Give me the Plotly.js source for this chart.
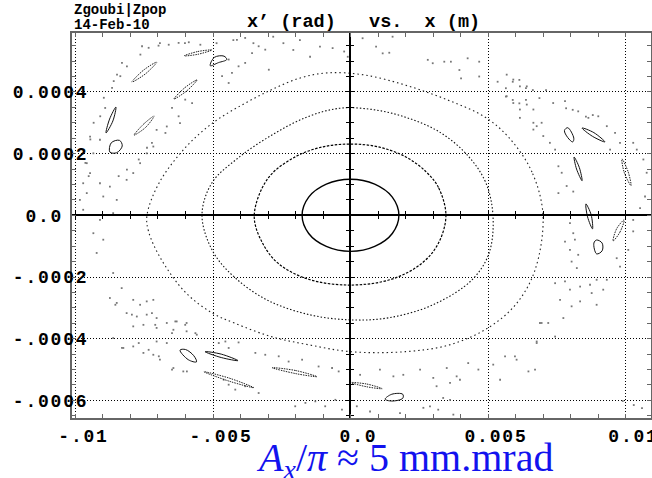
<!DOCTYPE html>
<html><head><meta charset="utf-8">
<script src="https://cdn.plot.ly/plotly-3.0.1.min.js"></script>
<style>
html,body{margin:0;padding:0;background:#fff}
#chart{width:652px;height:478px}
#chart .xtick text, #chart .ytick text{letter-spacing:1.8px}
</style>
</head><body><div id="chart"></div>
<script>
// ---- axes ----
const xRange = [-0.010127, 0.010927];
const yRange = [-0.000657, 0.000591];
const xTickVals = [-0.01, -0.005, 0, 0.005, 0.01];
const xTickText = ['-.01', '-.005', '0.0', '0.005', '0.01'];
const yTickVals = [0.0004, 0.0002, 0, -0.0002, -0.0004, -0.0006];
const yTickText = ['0.0004', '0.0002', '0.0\u00a0\u00a0', '-.0002', '-.0004', '-.0006'];

// ---- closed orbits (x [m], x' [rad]) ----
const orbit1 = [[0.00176,0],[0.00152,0.000059],[0.00088,0.000101],[0,0.000117],[-0.00088,0.000101],[-0.00152,0.000059],[-0.00176,0],[-0.00152,-0.000059],[-0.00088,-0.000101],[0,-0.000117],[0.00088,-0.000101],[0.00152,-0.000059],[0.00176,0]];
const orbit2 = [[0.00347,0],[0.0032,0.00009],[0.00275,0.000141],[0.002,0.00019],[0.001,0.000222],[0,0.000231],[-0.001,0.000222],[-0.002,0.00019],[-0.003,0.00012],[-0.0035,0],[-0.0032,-0.00009],[-0.0026,-0.000158],[-0.0015,-0.000208],[0,-0.000226],[0.0015,-0.000207],[0.0026,-0.000155],[0.0032,-0.00009],[0.00347,0]];
const orbit3 = [[0.00518,0],[0.0049,0.00011],[0.0042,0.0002],[0.0032,0.000272],[0.002,0.000318],[0.0008,0.000343],[-0.0004,0.000347],[-0.0016,0.000318],[-0.0029,0.000258],[-0.0041,0.000185],[-0.00504,0.000105],[-0.0054,0],[-0.005,-0.000118],[-0.0042,-0.000202],[-0.003,-0.000276],[-0.0015,-0.000322],[0,-0.000339],[0.0014,-0.000332],[0.003,-0.00029],[0.00442,-0.000209],[0.00504,-0.000122],[0.00518,0]];
const orbit4 = [[0.007,0],[0.0066,0.00014],[0.0058,0.000248],[0.0049,0.000318],[0.0035,0.000375],[0.002,0.000422],[0.0005,0.000455],[-0.0008,0.000462],[-0.0018,0.000446],[-0.00285,0.000408],[-0.0039,0.00036],[-0.005,0.0003],[-0.006,0.00022],[-0.00696,0.000105],[-0.0074,0],[-0.00735,-0.00005],[-0.0069,-0.00014],[-0.006,-0.00025],[-0.00504,-0.000316],[-0.0042,-0.00035],[-0.00285,-0.000394],[-0.0015,-0.00042],[0,-0.000442],[0.002,-0.000442],[0.0036,-0.00042],[0.005,-0.000365],[0.006,-0.00029],[0.0067,-0.00018],[0.007,0]];

// ---- resonance islands (small closed loops) ----
const islands = [
 [[-0.00795,0.000432],[-0.00752,0.000471],[-0.00704,0.000497],[-0.00745,0.000459],[-0.00795,0.000432]],
 [[-0.00605,0.000517],[-0.00555,0.000531],[-0.00504,0.000536],[-0.00555,0.000522],[-0.00605,0.000517]],
 [[-0.0051,0.000485],[-0.00495,0.000512],[-0.0046,0.000516],[-0.0045,0.000505],[-0.0048,0.000495],[-0.0051,0.000485]],
 [[-0.00642,0.000377],[-0.00602,0.000414],[-0.00558,0.000439],[-0.00596,0.000403],[-0.00642,0.000377]],
 [[-0.00889,0.000267],[-0.00876,0.000312],[-0.00853,0.000351],[-0.00864,0.000306],[-0.00889,0.000267]],
 [[-0.00787,0.00026],[-0.00752,0.000296],[-0.00714,0.000322],[-0.00745,0.000285],[-0.00787,0.00026]],
 [[-0.00875,0.000205],[-0.0087,0.000235],[-0.0084,0.000243],[-0.0083,0.000225],[-0.0085,0.000203],[-0.00875,0.000205]],
 [[0.00778,0.000275],[0.0079,0.000284],[0.00812,0.00025],[0.00808,0.000238],[0.0079,0.000252],[0.00778,0.000275]],
 [[0.00842,0.000283],[0.00885,0.000268],[0.00925,0.000238],[0.0088,0.000256],[0.00842,0.000283]],
 [[0.00813,0.000189],[0.00832,0.000155],[0.00842,0.000112],[0.00822,0.00015],[0.00813,0.000189]],
 [[0.00987,0.000183],[0.0101,0.00014],[0.0102,0.000096],[0.00995,0.00014],[0.00987,0.000183]],
 [[0.00856,0.000037],[0.00875,0.000002],[0.0088,-0.000044],[0.00862,-0.000005],[0.00856,0.000037]],
 [[0.00885,-0.00009],[0.00895,-0.00008],[0.00915,-0.00009],[0.00915,-0.000115],[0.00895,-0.000125],[0.00885,-0.00009]],
 [[0.00955,-0.000083],[0.0098,-0.000054],[0.00995,-0.000015],[0.00968,-0.000043],[0.00955,-0.000083]],
 [[-0.0062,-0.000437],[-0.006,-0.000435],[-0.0057,-0.000455],[-0.0056,-0.000475],[-0.0059,-0.000468],[-0.0062,-0.000437]],
 [[-0.00529,-0.000442],[-0.0047,-0.00045],[-0.00409,-0.000471],[-0.0047,-0.000461],[-0.00529,-0.000442]],
 [[-0.00533,-0.000507],[-0.0044,-0.000528],[-0.00351,-0.000559],[-0.0044,-0.000538],[-0.00533,-0.000507]],
 [[-0.00285,-0.000494],[-0.002,-0.000503],[-0.00122,-0.000523],[-0.002,-0.000513],[-0.00285,-0.000494]],
 [[0,-0.000542],[0.0006,-0.000547],[0.00115,-0.000562],[0.0006,-0.000556],[0,-0.000542]],
 [[0.00126,-0.000596],[0.0015,-0.00058],[0.0019,-0.00058],[0.0019,-0.000593],[0.0015,-0.000602],[0.00126,-0.000596]]
];
// which islands look like solid loops (others are dotted chains)
const islandSolid = [false,false,true,false,true,false,true,true,true,true,false,true,true,false,true,true,false,false,false,true];

// ---- chaotic-region particle hits ----
const chaos = [
 [-0.00758,0.000548],[-0.00734,0.000543],[-0.00698,0.00055],[-0.00661,0.000553],[-0.00625,0.000559],[-0.00588,0.000561],[-0.00546,0.000553],[-0.00764,0.000521],[-0.00831,0.000494],[-0.00813,0.000483],
 [-0.00849,0.000456],[-0.00861,0.000435],[-0.00837,0.000451],[-0.00867,0.000413],[-0.00897,0.000381],[-0.00892,0.000348],[-0.0091,0.000321],[-0.00934,0.0003],[-0.00946,0.000246],[-0.00964,0.00017],
 [-0.00952,0.000127],[-0.00649,0.000348],[-0.00625,0.000321],[-0.00601,0.000375],[-0.00576,0.000364],[-0.00673,0.000267],[-0.00722,0.000235],[-0.0074,0.000219],[-0.0077,0.000181],[-0.00813,0.000148],
 [-0.00843,0.000127],[-0.00443,0.000505],[-0.00407,0.000483],[-0.00383,0.000494],[-0.00358,0.000526],[-0.00334,0.000548],[-0.0031,0.000537],[-0.00467,0.000451],[-0.00443,0.000429],[-0.00431,0.000462],
 [-0.00413,0.000569],[-0.00383,0.000575],[-0.00297,0.000472],
 [-0.00065,0.000542],[-0.00023,0.000531],[-0.0001,0.000514],[0.00093,0.000547],[0.00117,0.000525],[0.00141,0.000527],[0.00281,0.000504],[0.00299,0.000493],[0.00341,0.000498],[0.00365,0.000498],
 [0.00396,0.000471],[0.00402,0.000444],[0.00426,0.000509],[0.00468,0.00045],[0.00468,0.000498],[0.00535,0.000433],[0.00565,0.000412],[0.0059,0.000433],[0.00614,0.000439],[0.00638,0.000412],
 [0.00663,0.000406],[0.00565,0.000385],[0.0059,0.000374],[0.00614,0.000363],[0.00638,0.000374],[0.00687,0.00038],[0.00711,0.000406],[0.00784,0.000347],[0.00808,0.000342],[0.00856,0.00032],
 [0.00881,0.000325],[0.00044,0.000574],[0.00153,0.000579],
 [-0.00693,0.000558],[-0.00602,0.000558],[-0.00487,0.000558],[-0.00426,0.000568],[-0.00353,0.000558],[-0.00281,0.000579],[-0.00244,0.000558],[-0.00208,0.000536],[-0.00184,0.000568],[-0.00147,0.000514],[-0.00111,0.000547],
 [-0.00947,0.000255],[-0.00911,0.000245],[-0.00935,0.000201],[-0.00959,0.000169],[-0.00947,0.000137],[-0.00972,0.000104],[-0.00959,0.000072],[-0.00984,0.00005],[-0.00972,0.000018],[-0.00911,0.000104],
 [-0.00875,0.000093],[-0.00899,0.000061],[-0.0085,0.00005],[-0.00814,0.000115],[-0.0079,0.000137],[-0.00765,0.000169],[-0.00741,0.000201],[-0.00717,0.000223],[-0.00911,-0.000015],[-0.00935,-0.000058],
 [-0.00899,-0.000079],[-0.00923,-0.000122],[-0.00863,0.000007],[-0.00705,0.000277],[-0.00668,0.000288],[-0.0062,0.000299],
 [-0.00863,-0.000187],[-0.00832,-0.000236],[-0.00875,-0.000268],[-0.0085,-0.000284],[-0.0079,-0.000274],[-0.00765,-0.00029],[-0.00741,-0.000279],[-0.00717,-0.000274],[-0.00814,-0.000317],[-0.00777,-0.000328],
 [-0.00741,-0.000322],[-0.00705,-0.000333],[-0.00668,-0.000349],[-0.00632,-0.000344],[-0.00596,-0.000349],[-0.0079,-0.00036],[-0.00753,-0.000355],[-0.00705,-0.000365],[-0.00644,-0.000371],[-0.00596,-0.000376],
 [-0.00559,-0.000387],[-0.00826,-0.00043],[-0.0079,-0.000425],[-0.00753,-0.000446],[-0.00717,-0.000452],[-0.00693,-0.000468],[-0.00644,-0.000495],[-0.00608,-0.000506],[-0.00705,-0.000409],[-0.00668,-0.000414],
 [-0.00863,-0.000398],[-0.00855,-0.00029],[-0.00795,-0.000322],[-0.00722,-0.000317],[-0.0071,-0.000355],[-0.00637,-0.000344],[-0.00601,-0.000355],[-0.00649,-0.000382],[-0.00564,-0.000382],[-0.0077,-0.000414],
 [-0.00734,-0.000436],[-0.00697,-0.000457],[-0.00831,-0.00043],[-0.00649,-0.0005],[-0.00595,-0.000506],
 [-0.00479,-0.000414],[-0.00455,-0.000409],[-0.00407,-0.000412],[-0.00443,-0.00043],[-0.00461,-0.000533],[-0.00443,-0.000549],[-0.00419,-0.000565],[-0.00383,-0.000554],[-0.00334,-0.000576],[-0.00346,-0.000446],
 [-0.0031,-0.000452],[-0.00261,-0.000457],[-0.00225,-0.000474],[-0.00176,-0.000468],[-0.00116,-0.00049],[-0.00067,-0.000495],[-0.00043,-0.000506],[-0.00164,-0.000608],[-0.00128,-0.000603],[-0.00092,-0.000619],
 [-0.00055,-0.000598],[-0.00031,-0.00063],[-0.00201,-0.000619],
 [0.00035,-0.000517],[0.00107,-0.0005],[0.00156,-0.000522],[0.00192,-0.000517],[0.00253,-0.0005],[0.00301,-0.000527],[0.0035,-0.000495],[0.00386,-0.000522],[0.00428,-0.000479],[0.00465,-0.0005],
 [0.00313,-0.000554],[0.00362,-0.000543],[0.00398,-0.000533],[0.00337,-0.000592],[0.00362,-0.000598],[0.00265,-0.000624],[0.00289,-0.000619],[0.00319,-0.00063],[0.00519,-0.000484],[0.00562,-0.000457],
 [0.00604,-0.000468],[0.00671,-0.0005],[0.00677,-0.000409],[0.00695,-0.000349],[0.00023,-0.000619],[0.00071,-0.000636],[0.0018,-0.000641],[0.00374,-0.000646],
 [0.00756,0.000072],[0.0081,0.000077],[0.00798,-0.000025],[0.0081,-0.000058],[0.0078,-0.000085],[0.00816,-0.000079],[0.00798,-0.000112],[0.00828,-0.000128],[0.00804,-0.00015],[0.00823,-0.000171],
 [0.0078,-0.000214],[0.00744,-0.00022],[0.00798,-0.000241],[0.00835,-0.000231],[0.00871,-0.000225],[0.00895,-0.000209],[0.00919,-0.000241],[0.00932,-0.000209],[0.00762,-0.000274],[0.00804,-0.000295],
 [0.00835,-0.000279],[0.00895,-0.00029],[0.00877,-0.000252],[0.00774,-0.000333],[0.00689,-0.000349],[0.00719,-0.000349],[0.00744,-0.000393],[0.00677,-0.000414],[0.00598,-0.000457],[0.00647,-0.000506],
 [0.00544,-0.000533],[0.00968,-0.000139],[0.0098,-0.000166],[0.0101,-0.000112],[0.01028,-0.000015],[0.01028,-0.000052],[0.01053,0.000023],[0.01071,0.000061],
 [0.00568,0.000456],[0.00592,0.00044],[0.00616,0.000418],[0.00641,0.000418],[0.00568,0.000386],[0.00592,0.000364],[0.00616,0.000343],[0.00641,0.000359],[0.00665,0.000343],[0.00665,0.0003],
 [0.00677,0.000289],[0.00695,0.0003],[0.00737,0.000364],[0.0078,0.00037],[0.00828,0.000337],[0.00865,0.000316],[0.00901,0.000321],[0.00932,0.000289],[0.00962,0.000267],[0.00944,0.000213],
 [0.0098,0.000235],[0.01028,0.000235],[0.01041,0.000213],[0.01065,0.000181],[0.01077,0.000138],[0.00725,0.000235],[0.00744,0.000213],[0.00756,0.000159],[0.00768,0.000138],[0.00786,0.000095],
 [0.00701,0.000257],[0.00616,0.000316],[0.00665,0.000278],
 [0.0099,-0.000602],[0.0103,-0.000615],[0.0106,-0.000625]
];

const px = p => p.map(v => v[0]);
const py = p => p.map(v => v[1]);

const traces = [];
traces.push({x: px(chaos), y: py(chaos), type: 'scatter', mode: 'markers',
  marker: {size: 1.8, color: '#777', symbol: 'square', line: {width: 0}}, hoverinfo: 'skip', showlegend: false});
islands.forEach((isl, i) => traces.push({x: px(isl), y: py(isl), type: 'scatter', mode: 'lines',
  line: islandSolid[i] ? {shape: 'spline', color: '#111', width: 1} : {shape: 'spline', color: '#222', width: 1, dash: '1.5px,1px'},
  hoverinfo: 'skip', showlegend: false}));
const orbitStyles = [
  [orbit1, {color: '#000', width: 1.4}],
  [orbit2, {color: '#000', width: 1.2, dash: '2.5px,1.5px'}],
  [orbit3, {color: '#111', width: 1.1, dash: '1.5px,2px'}],
  [orbit4, {color: '#222', width: 1.1, dash: '1.5px,3px'}]
];
orbitStyles.forEach(([o, ln]) => traces.push({x: px(o), y: py(o), type: 'scatter', mode: 'lines',
  line: Object.assign({shape: 'spline'}, ln), hoverinfo: 'skip', showlegend: false}));
// dummy traces so the zero-crossing axes exist
traces.push({x: [null], y: [null], xaxis: 'x2', yaxis: 'y', showlegend: false, hoverinfo: 'skip'});
traces.push({x: [null], y: [null], xaxis: 'x3', yaxis: 'y', showlegend: false, hoverinfo: 'skip'});
traces.push({x: [null], y: [null], xaxis: 'x', yaxis: 'y2', showlegend: false, hoverinfo: 'skip'});
traces.push({x: [null], y: [null], xaxis: 'x', yaxis: 'y3', showlegend: false, hoverinfo: 'skip'});

const tickFont = {family: 'Liberation Mono, monospace', size: 18, weight: 'bold', color: '#000'};
const posY0 = (0 - yRange[0]) / (yRange[1] - yRange[0]);
const posX0 = (0 - xRange[0]) / (xRange[1] - xRange[0]);

const zeroX = side => ({overlaying: 'x', anchor: 'free', position: posY0, range: xRange,
  showline: true, linecolor: '#000', linewidth: 2, ticks: side, ticklen: 3, tickwidth: 1, tickcolor: '#000',
  tickmode: 'linear', tick0: 0, dtick: 0.001, showticklabels: false, showgrid: false, zeroline: false, fixedrange: true});
const zeroY = side => ({overlaying: 'y', anchor: 'free', position: posX0, range: yRange,
  showline: true, linecolor: '#000', linewidth: 2, ticks: side, ticklen: 3, tickwidth: 1, tickcolor: '#000',
  tickmode: 'linear', tick0: 0, dtick: 0.00005, showticklabels: false, showgrid: false, zeroline: false, fixedrange: true});

const layout = {
  width: 652, height: 478,
  margin: {l: 72, r: 1, t: 33, b: 60},
  paper_bgcolor: '#fff', plot_bgcolor: '#fff',
  showlegend: false,
  title: {text: 'x’\u00a0(rad)\u00a0\u00a0\u00a0vs.\u00a0\u00a0x\u00a0(m)', x: 0.5035, xref: 'paper', xanchor: 'center', y: 0.958, yanchor: 'middle',
    font: {family: 'Liberation Mono, monospace', size: 18.5, weight: 'bold', color: '#000'}},
  xaxis: {range: xRange, tickmode: 'array', tickvals: xTickVals, ticktext: xTickText,
    showgrid: true, gridcolor: '#000', gridwidth: 1, griddash: '1px,2px', zeroline: false,
    showline: true, linecolor: '#666', linewidth: 2, mirror: 'allticks',
    ticks: 'inside', ticklen: 4, tickcolor: '#666', tickwidth: 1,
    minor: {tickmode: 'linear', tick0: 0, dtick: 0.001, ticks: 'inside', ticklen: 4, tickcolor: '#666', tickwidth: 1, showgrid: false},
    ticklabelshift: 8, ticklabeloverflow: 'allow', tickfont: tickFont, fixedrange: true},
  yaxis: {range: yRange, tickmode: 'array', tickvals: yTickVals, ticktext: yTickText,
    showgrid: true, gridcolor: '#000', gridwidth: 1, griddash: '1px,2px', zeroline: false,
    showline: true, linecolor: '#666', linewidth: 2, mirror: 'allticks',
    ticks: 'inside', ticklen: 4, tickcolor: '#666', tickwidth: 1,
    minor: {tickmode: 'linear', tick0: 0, dtick: 0.00005, ticks: 'inside', ticklen: 4, tickcolor: '#666', tickwidth: 1, showgrid: false},
    ticklabelstandoff: -22, ticklabeloverflow: 'allow', tickfont: tickFont, fixedrange: true},
  xaxis2: zeroX('outside'), xaxis3: zeroX('inside'),
  yaxis2: zeroY('outside'), yaxis3: zeroY('inside'),
  annotations: [
    {text: 'Zgoubi|Zpop', xref: 'paper', yref: 'paper', x: 0, y: 1 + 23/385, xanchor: 'left', yanchor: 'middle', showarrow: false,
     font: {family: 'Liberation Mono, monospace', size: 14, weight: 'bold', color: '#000'}},
    {text: '14-Feb-10', xref: 'paper', yref: 'paper', x: 0, y: 1 + 8/385, xanchor: 'left', yanchor: 'middle', showarrow: false,
     font: {family: 'Liberation Mono, monospace', size: 14, weight: 'bold', color: '#000'}},
    {text: '<i>A</i><sub><i>x</i></sub>/<i>π</i> ≈ 5 mm.mrad', xref: 'paper', yref: 'paper', x: 0.575, y: -42/385,
     xanchor: 'center', yanchor: 'middle', showarrow: false,
     font: {family: 'Liberation Serif, DejaVu Serif, serif', size: 40, color: '#1212ee'}}
  ]
};

Plotly.newPlot('chart', traces, layout, {displayModeBar: false, staticPlot: true});
</script>
</body></html>
